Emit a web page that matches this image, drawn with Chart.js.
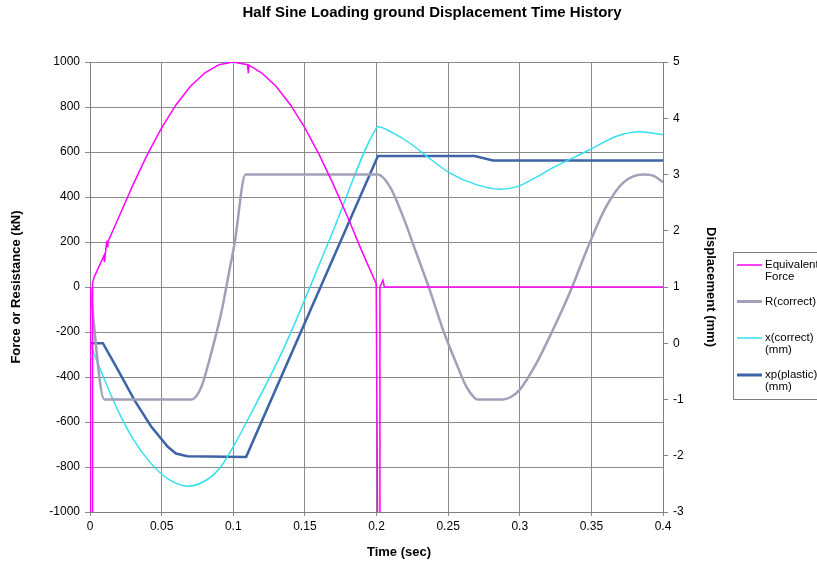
<!DOCTYPE html>
<html>
<head>
<meta charset="utf-8">
<script src="https://cdn.jsdelivr.net/npm/chart.js@4.4.0/dist/chart.umd.min.js"></script>
<style>
  body { margin: 0; background: #fff; overflow: hidden; }
  canvas { display: block; }
</style>
</head>
<body>
<canvas id="myChart" width="817" height="563"></canvas>
<script>
// Equivalent Force (kN), left axis
var forceT = [0.0003, 0.0003, 0.0018, 0.0018, 0.003, 0.0098, 0.0101, 0.0117, 0.012, 0.0125,
  0.02, 0.03, 0.04, 0.05, 0.06, 0.07, 0.08, 0.09, 0.1, 0.11, 0.1105, 0.111,
  0.12, 0.13, 0.14, 0.15, 0.16, 0.17, 0.18, 0.19, 0.1998, 0.2008, 0.2024, 0.2024, 0.2045, 0.2055, 0.4];
var forceV = [0, -1100, -1100, 20, 45, 140, 110, 205, 180, 200,
  309, 454, 588, 707, 809, 891, 951, 988, 1000, 988, 950, 986,
  951, 891, 809, 707, 588, 454, 309, 156, 15, -1100, -1100, 0, 30, 0, 0];

// R(correct) (kN), left axis
var rT = [0, 0.01, 0.0707, 0.0778, 0.0846, 0.0916, 0.0974, 0.101, 0.1086,
  0.201, 0.2091, 0.2184, 0.2278, 0.2371, 0.2464, 0.2557, 0.2627, 0.2686, 0.2705,
  0.288, 0.2935, 0.2999, 0.3116, 0.3232, 0.3348, 0.3488, 0.3605, 0.3721, 0.386, 0.393, 0.4];
var rV = [0, -500, -500, -443, -294, -116, 77, 197, 500,
  500, 448, 315, 151, -12, -190, -339, -443, -494, -500,
  -500, -490, -457, -339, -190, -27, 196, 359, 463, 500, 495, 466];

// x(correct) (mm), right axis
var xT = [0, 0.005, 0.01, 0.0194, 0.03, 0.0427, 0.055, 0.0683, 0.0893, 0.1, 0.1126,
  0.1358, 0.168, 0.2, 0.201, 0.212, 0.2231, 0.2348, 0.251, 0.2697, 0.286,
  0.2976, 0.31, 0.321, 0.3488, 0.3675, 0.3837, 0.4];
var xV = [0, -0.33, -0.64, -1.19, -1.7, -2.14, -2.42, -2.54, -2.26, -1.84, -1.24,
  -0.06, 1.89, 3.83, 3.85, 3.73, 3.56, 3.33, 3.03, 2.82, 2.74,
  2.78, 2.93, 3.09, 3.44, 3.68, 3.76, 3.71];

// xp(plastic) (mm), right axis
var xpT = [0, 0.009, 0.0194, 0.031, 0.0427, 0.0543, 0.06, 0.068, 0.109, 0.201, 0.2685, 0.2813, 0.4];
var xpV = [0, 0, -0.47, -1.01, -1.48, -1.84, -1.96, -2.01, -2.02, 3.33, 3.33, 3.25, 3.25];

var xTicks = [0, 0.05, 0.1, 0.15, 0.2, 0.25, 0.3, 0.35, 0.4];

function pts(t, v) {
  return t.map(function(tt, i) { return {x: tt, y: v[i]}; });
}

var fontName = "'Liberation Sans', Arial, sans-serif";

var legendItems = [
  {color: '#ff00ff', width: 1.5, lines: ['Equivalent', 'Force'], y: 265},
  {color: '#a0a0b8', width: 3, lines: ['R(correct)'], y: 301.5},
  {color: '#33e0f0', width: 1.5, lines: ['x(correct)', '(mm)'], y: 338},
  {color: '#3c64a6', width: 3, lines: ['xp(plastic)', '(mm)'], y: 375}
];

var extras = {
  id: 'extras',
  afterDraw: function(chart) {
    var ctx = chart.ctx;
    ctx.save();
    ctx.fillStyle = '#000';
    ctx.font = 'bold 15px ' + fontName;
    ctx.textAlign = 'center';
    ctx.textBaseline = 'middle';
    ctx.fillText('Half Sine Loading ground Displacement Time History', 432, 13);

    // x axis title
    ctx.font = 'bold 13px ' + fontName;
    ctx.fillText('Time (sec)', 399, 552);

    ctx.strokeStyle = '#808080';
    ctx.lineWidth = 1;
    ctx.strokeRect(733.5, 252.5, 120, 147);
    ctx.font = '11.5px ' + fontName;
    ctx.textAlign = 'left';
    legendItems.forEach(function(it) {
      ctx.strokeStyle = it.color;
      ctx.lineWidth = it.width;
      ctx.beginPath();
      ctx.moveTo(737, it.y);
      ctx.lineTo(762, it.y);
      ctx.stroke();
      it.lines.forEach(function(s, k) {
        ctx.fillText(s, 765, it.y + k * 12);
      });
    });
    ctx.restore();
  }
};

var canvas = document.getElementById('myChart');
var ctx = canvas.getContext('2d');
var myNewChart = new Chart(ctx, {
  type: 'line',
  data: {
    datasets: [
      {label: 'Equivalent Force', data: pts(forceT, forceV), borderColor: '#ff00ff', borderWidth: 1.5, yAxisID: 'y', tension: 0},
      {label: 'R(correct)', data: pts(rT, rV), borderColor: '#a0a0b8', borderWidth: 2.5, yAxisID: 'y', cubicInterpolationMode: 'monotone'},
      {label: 'x(correct) (mm)', data: pts(xT, xV), borderColor: '#33e0f0', borderWidth: 1.5, yAxisID: 'y1', cubicInterpolationMode: 'monotone'},
      {label: 'xp(plastic) (mm)', data: pts(xpT, xpV), borderColor: '#3c64a6', borderWidth: 2.5, yAxisID: 'y1', tension: 0}
    ]
  },
  options: {
    responsive: false,
    animation: false,
    parsing: false,
    elements: { point: { radius: 0 } },
    layout: { padding: { top: 62, right: 94, bottom: 0, left: 0 } },
    plugins: {
      legend: { display: false },
      title: { display: false },
      tooltip: { enabled: false }
    },
    scales: {
      x: {
        type: 'linear',
        min: 0,
        max: 0.4,
        afterBuildTicks: function(scale) {
          scale.ticks = xTicks.map(function(v) { return {value: v}; });
        },
        afterFit: function(scale) { scale.height = 51; },
        grid: { color: '#8a8a8a', tickLength: 4 },
        border: { color: '#808080' },
        ticks: {
          color: '#000',
          font: { family: fontName, size: 12 },
          padding: 3,
          maxRotation: 0,
          callback: function(v) { return String(Math.round(v * 100) / 100); }
        },
        title: { display: false }
      },
      y: {
        position: 'left',
        min: -1000,
        max: 1000,
        afterFit: function(scale) { scale.width = 90; },
        grid: { color: '#8a8a8a', tickLength: 5 },
        border: { color: '#808080' },
        ticks: { stepSize: 200, color: '#000', font: { family: fontName, size: 12 }, padding: 5,
          callback: function(v) { return String(v); } },
        title: { display: true, text: 'Force or Resistance (kN)', color: '#000', font: { family: fontName, size: 13, weight: 'bold' }, padding: { top: 9, bottom: 0 } }
      },
      y1: {
        position: 'right',
        min: -3,
        max: 5,
        afterFit: function(scale) { scale.width = 60; },
        grid: { drawOnChartArea: false, color: '#808080', tickLength: 5 },
        border: { color: '#808080' },
        ticks: { stepSize: 1, color: '#000', font: { family: fontName, size: 12 }, padding: 5,
          callback: function(v) { return String(v); } },
        title: { display: true, text: 'Displacement (mm)', color: '#000', font: { family: fontName, size: 13, weight: 'bold' }, padding: { top: 5, bottom: 0 } }
      }
    }
  },
  plugins: [extras]
});
</script>
</body>
</html>
